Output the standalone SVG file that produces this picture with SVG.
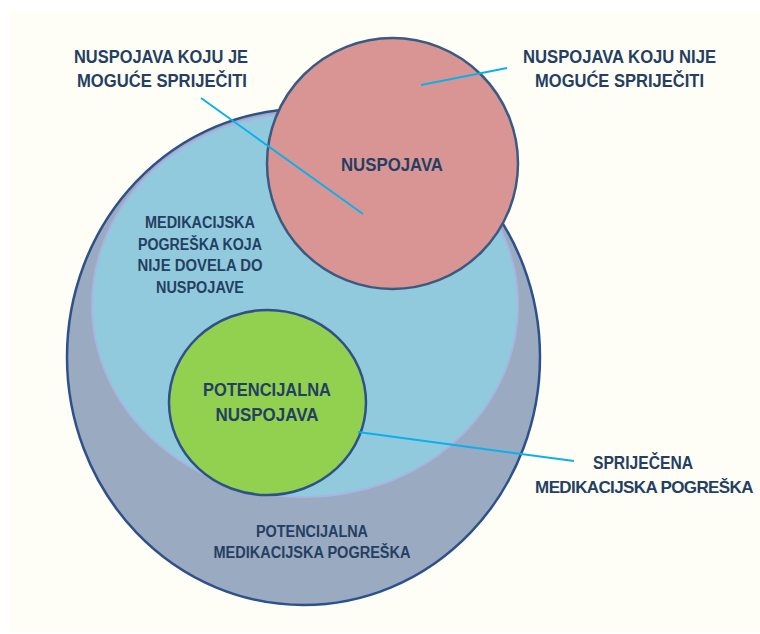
<svg xmlns="http://www.w3.org/2000/svg" width="760" height="634" viewBox="0 0 760 634">
<style>
.t{font-family:"Liberation Sans",Arial,sans-serif;font-weight:bold;fill:#243F62;text-anchor:middle}
.big{font-size:18px}
.sm{font-size:16px}
.con{stroke:#0AB0EE;stroke-width:2;fill:none}
</style>
<rect x="0" y="0" width="760" height="634" fill="#FFFFFF"/>
<rect x="10" y="12" width="750" height="620" fill="#FEFEF6"/>
<g id="potencijalna-medikacijska-pogreska">
<ellipse cx="303.5" cy="357" rx="236.5" ry="248" fill="#9AAAC1" stroke="#2E5189" stroke-width="2.5"/>
<text class="t sm" x="312" y="537" textLength="112" lengthAdjust="spacingAndGlyphs">POTENCIJALNA</text>
<text class="t sm" x="312" y="558" textLength="197" lengthAdjust="spacingAndGlyphs">MEDIKACIJSKA POGREŠKA</text>
</g>
<g id="medikacijska-pogreska">
<ellipse cx="305" cy="305" rx="213" ry="192" fill="#92CADD" stroke="#A6B5E2" stroke-width="2"/>
<text class="t sm" x="200" y="228" textLength="110" lengthAdjust="spacingAndGlyphs">MEDIKACIJSKA</text>
<text class="t sm" x="200" y="250" textLength="124" lengthAdjust="spacingAndGlyphs">POGREŠKA KOJA</text>
<text class="t sm" x="200" y="271" textLength="125" lengthAdjust="spacingAndGlyphs">NIJE DOVELA DO</text>
<text class="t sm" x="200" y="293" textLength="88" lengthAdjust="spacingAndGlyphs">NUSPOJAVE</text>
</g>
<g id="nuspojava">
<circle cx="392.5" cy="163.5" r="125.5" fill="#D99594" stroke="#3B5A82" stroke-width="2.5"/>
<text class="t big" x="392" y="171" textLength="102" lengthAdjust="spacingAndGlyphs">NUSPOJAVA</text>
</g>
<g id="potencijalna-nuspojava">
<ellipse cx="267.5" cy="402.5" rx="98.5" ry="92.5" fill="#92D050" stroke="#2E5189" stroke-width="2.5"/>
<text class="t big" x="267" y="396" textLength="128" lengthAdjust="spacingAndGlyphs">POTENCIJALNA</text>
<text class="t big" x="267" y="421" textLength="103" lengthAdjust="spacingAndGlyphs">NUSPOJAVA</text>
</g>
<g id="label-moguce">
<text class="t big" x="161" y="63" textLength="174" lengthAdjust="spacingAndGlyphs">NUSPOJAVA KOJU JE</text>
<text class="t big" x="162" y="87" textLength="170" lengthAdjust="spacingAndGlyphs">MOGUĆE SPRIJEČITI</text>
</g>
<g id="label-nije-moguce">
<text class="t big" x="619.5" y="63" textLength="193" lengthAdjust="spacingAndGlyphs">NUSPOJAVA KOJU NIJE</text>
<text class="t big" x="619.5" y="87" textLength="169" lengthAdjust="spacingAndGlyphs">MOGUĆE SPRIJEČITI</text>
</g>
<g id="label-sprijecena">
<text class="t big" x="643" y="469" textLength="100" lengthAdjust="spacingAndGlyphs">SPRIJEČENA</text>
<text class="t" style="font-size:17px" x="644" y="493" letter-spacing="-0.62">MEDIKACIJSKA POGREŠKA</text>
</g>
<g id="connectors">
<line class="con" x1="201" y1="98" x2="363" y2="214"/>
<line class="con" x1="507" y1="68" x2="421" y2="85"/>
<line class="con" x1="358" y1="432" x2="574" y2="461"/>
</g>
</svg>
